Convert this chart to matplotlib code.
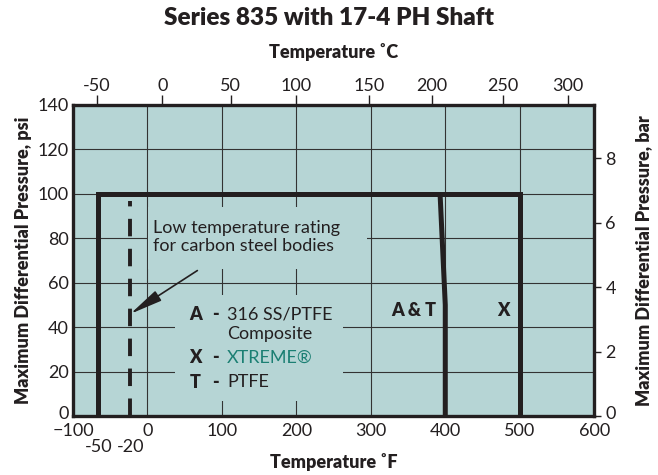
import matplotlib
matplotlib.use("Agg")
import matplotlib.pyplot as plt
from matplotlib.patches import Rectangle
from matplotlib.transforms import blended_transform_factory, ScaledTranslation

plt.rcParams['font.family'] = ['Lato', 'DejaVu Sans']

# data
f_ticks = [-100, 0, 100, 200, 300, 400, 500, 600]
psi_ticks = [0, 20, 40, 60, 80, 100, 120, 140]
bar_ticks = [0, 2, 4, 6, 8]
c_labels = ['-50', '0', '50', '100', '150', '200', '250', '300']
c_pos_f = [-68, 20, 112, 200, 298, 382, 477, 565]   # where the °C ticks sit on the °F scale

env_f = [-66, -66, 500, 500]        # X (XTREME) envelope
env_psi = [0, 100, 100, 0]
at_f = [393, 400, 400]              # A & T limit
at_psi = [100, 50, 0]
carbon_f = -23                      # carbon steel low temp line
carbon_psi = [0, 97]
low_labels = ['-50', '-20']
low_pos_f = [-66, -23]

bg = '#b6d5d5'
dark = '#231f20'
teal = '#1b7f73'
BOLD = 'heavy'

fig = plt.figure(figsize=(6.58, 4.75), dpi=100)
ax = fig.add_axes([0.111, 0.124, 0.792, 0.655])
ax.set_facecolor(bg)
ax.set_xlim(-100, 600)
ax.set_ylim(0, 140)

ax.set_xticks(f_ticks)
ax.set_yticks(psi_ticks)
ax.tick_params(axis='both', length=0, labelsize=13, colors=dark, pad=3)
ax.tick_params(axis='x', pad=5)
ax.grid(True, color='#333333', linewidth=0.8, zorder=1)
ax.set_axisbelow(True)
for s in ax.spines.values():
    s.set_linewidth(2.4)
    s.set_color(dark)
    s.set_zorder(6)

# boxes that hide the grid behind the texts
ax.add_patch(Rectangle((37, 7), 225, 47.5, facecolor=bg, edgecolor='none', zorder=2))
ax.add_patch(Rectangle((1, 66), 294, 28, facecolor=bg, edgecolor='none', zorder=2))

ax.plot(env_f, env_psi, color=dark, linewidth=3.6, solid_joinstyle='miter',
        solid_capstyle='butt', zorder=5)
ax.plot(at_f, at_psi, color=dark, linewidth=3.6, solid_joinstyle='round',
        solid_capstyle='butt', zorder=5)
ax.plot([carbon_f, carbon_f], carbon_psi, color=dark, linewidth=2.8,
        dashes=(4.5, 3.2), zorder=5)

ax.text(7, 80.5, 'Low temperature rating\nfor carbon steel bodies', fontsize=13,
        color=dark, va='center', ha='left', linespacing=1.15, zorder=4)
ax.annotate('', xy=(carbon_f, 46), xytext=(67, 65.5),
            arrowprops=dict(arrowstyle='-|>,head_length=2.0,head_width=0.35',
                            color=dark, lw=1.2, shrinkA=0, shrinkB=0), zorder=5)

leg_y = [45.5, 37, 26.2, 15.3]
ax.text(64, leg_y[0], 'A', fontsize=13, fontweight=BOLD, color=dark, ha='center', va='center', zorder=4)
ax.text(64, leg_y[2], 'X', fontsize=13, fontweight=BOLD, color=dark, ha='center', va='center', zorder=4)
ax.text(64, leg_y[3], 'T', fontsize=13, fontweight=BOLD, color=dark, ha='center', va='center', zorder=4)
for y in (leg_y[0], leg_y[2], leg_y[3]):
    ax.text(91, y, '-', fontsize=13, fontweight=BOLD, color=dark, ha='center', va='center', zorder=4)
ax.text(107, leg_y[0], '316 SS/PTFE', fontsize=13, color=dark, va='center', zorder=4)
ax.text(107, leg_y[1], 'Composite', fontsize=13, color=dark, va='center', zorder=4)
ax.text(107, leg_y[2], 'XTREME®', fontsize=13, color=teal, va='center', zorder=4)
ax.text(107, leg_y[3], 'PTFE', fontsize=13, color=dark, va='center', zorder=4)

ax.text(357, 47.5, 'A & T', fontsize=13, fontweight=BOLD, color=dark, ha='center', va='center', zorder=4)
ax.text(478, 47.5, 'X', fontsize=13, fontweight=BOLD, color=dark, ha='center', va='center', zorder=4)

# extra °F labels under the low temperature lines
tr = blended_transform_factory(ax.transData, ax.transAxes)
for pos, lab in zip(low_pos_f, low_labels):
    ax.text(pos, -0.1, lab, transform=tr, fontsize=13, color=dark, ha='center', va='center')

# top °C axis
top = ax.secondary_xaxis('top')
top.set_xticks(c_pos_f)
top.set_xticklabels(c_labels)
top.tick_params(length=7, width=1, colors=dark, labelsize=13, pad=1)
top.spines['top'].set_visible(False)
top.set_xlabel('Temperature ˚C', fontsize=13, fontweight=BOLD, color=dark, labelpad=14)

# right bar axis
right = ax.secondary_yaxis('right', functions=(lambda p: p / 14.5038, lambda b: b * 14.5038))
right.set_yticks(bar_ticks)
right.tick_params(length=5, width=1, colors=dark, labelsize=13, pad=3)
right.spines['right'].set_visible(False)
right.set_ylabel('Maximum Differential Pressure, bar', fontsize=13, fontweight=BOLD,
                 color=dark, labelpad=14)

ax.set_ylabel('Maximum Differential Pressure, psi', fontsize=13, fontweight=BOLD,
              color=dark, labelpad=4)
ax.set_xlabel('Temperature ˚F', fontsize=13, fontweight=BOLD, color=dark, labelpad=10)
fig.suptitle('Series 835 with 17-4 PH Shaft', fontsize=17.5, fontweight=BOLD,
             color=dark, y=0.985)

# the zero labels sit a little above the bottom edge, as in the original
fig.canvas.draw()
shift = ScaledTranslation(0, 4 / 100, fig.dpi_scale_trans)
for lab in (ax.get_yticklabels()[0], right.get_yticklabels()[0]):
    lab.set_transform(lab.get_transform() + shift)

fig.savefig('out.png', dpi=100)
